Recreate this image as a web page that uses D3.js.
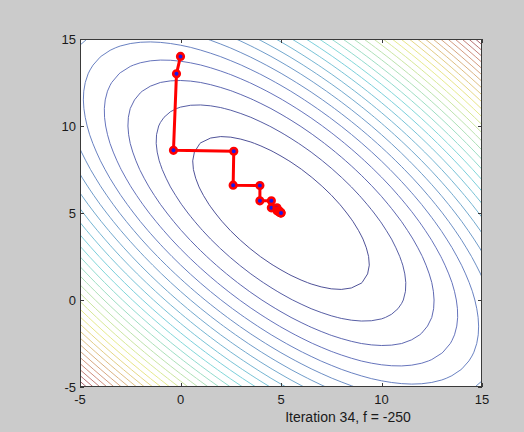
<!DOCTYPE html>
<html>
<head>
<meta charset="utf-8">
<script src="https://cdn.jsdelivr.net/npm/d3@7"></script>
<style>
  html, body { margin: 0; padding: 0; background: #cbcbcb; }
  svg { display: block; }
  text { font-family: "Liberation Sans", Arial, sans-serif; fill: #1a1a1a; }
</style>
</head>
<body>
<svg id="chart" width="524" height="432"></svg>
<script>
'use strict';

// axis ticks
const xTicks = [-5, 0, 5, 10, 15];
const yTicks = [-5, 0, 5, 10, 15];

// objective f(x) = x'Ax - b'x (minimum -250 at (5,5))
const quadA = [[3, 2], [2, 3]];
const quadB = [50, 50];

// contour levels (30 evenly spaced between min and max)
const levels = [
  -217.7, -185.5, -153.2, -121.0, -88.7, -56.5, -24.2, 8.1, 40.3, 72.6,
  104.8, 137.1, 169.4, 201.6, 233.9, 266.1, 298.4, 330.6, 362.9, 395.2,
  427.4, 459.7, 491.9, 524.2, 556.5, 588.7, 621.0, 653.2, 685.5, 717.7
];

// descent path
const pathX = [0, -0.2, -0.35, 2.65, 2.62, 3.95, 3.95, 4.52, 4.52, 4.8, 4.8, 4.9, 4.9, 4.96, 4.96, 4.98, 4.98, 5.0, 5.0];
const pathY = [14, 13, 8.6, 8.55, 6.6, 6.58, 5.7, 5.7, 5.3, 5.3, 5.13, 5.13, 5.06, 5.06, 5.03, 5.03, 5.01, 5.01, 5.0];

const xLabel = 'Iteration 34, f = -250';

(function () {
  const plot = { left: 80, right: 482, top: 39, bottom: 387 };

  const svg = d3.select('#chart');

  const x = d3.scaleLinear().domain([-5, 15]).range([plot.left, plot.right]);
  const y = d3.scaleLinear().domain([-5, 15]).range([plot.bottom, plot.top]);

  function f(px, py) {
    return quadA[0][0] * px * px + (quadA[0][1] + quadA[1][0]) * px * py + quadA[1][1] * py * py
      - quadB[0] * px - quadB[1] * py;
  }

  // sample grid, a bit wider than the axes so the border rings get clipped
  const step = 0.5;
  const g0 = -6;
  const gridPts = d3.range(g0, 16 + 1e-9, step);
  const n = gridPts.length;
  const values = new Array(n * n);
  for (let j = 0; j < n; j++) {
    for (let i = 0; i < n; i++) {
      values[j * n + i] = f(gridPts[i], gridPts[j]);
    }
  }

  const contours = d3.contours().size([n, n]).thresholds(levels)(values);

  const toScreen = d3.geoTransform({
    point: function (cx, cy) {
      this.stream.point(x(g0 + (cx - 0.5) * step), y(g0 + (cy - 0.5) * step));
    }
  });
  const contourPath = d3.geoPath(toScreen);

  // faded jet colormap
  const color = d3.scaleLinear()
    .domain([-250, -125, 125, 375, 625, 750])
    .range(['#33337f', '#5563b4', '#6fd3da', '#e9e97a', '#c88070', '#92445a'])
    .interpolate(d3.interpolateRgb);

  svg.append('defs').append('clipPath').attr('id', 'plot-clip')
    .append('rect')
    .attr('x', plot.left).attr('y', plot.top)
    .attr('width', plot.right - plot.left).attr('height', plot.bottom - plot.top);

  svg.append('rect')
    .attr('x', plot.left).attr('y', plot.top)
    .attr('width', plot.right - plot.left).attr('height', plot.bottom - plot.top)
    .attr('fill', '#ffffff');

  svg.append('g')
    .attr('clip-path', 'url(#plot-clip)')
    .selectAll('path')
    .data(contours)
    .join('path')
    .attr('d', contourPath)
    .attr('fill', 'none')
    .attr('stroke', (d) => color(d.value))
    .attr('stroke-width', 1)
    .attr('stroke-opacity', 0.9);

  // descent path
  const pts = pathX.map((v, i) => [v, pathY[i]]);
  const line = d3.line().x((d) => x(d[0])).y((d) => y(d[1]));

  svg.append('path')
    .datum(pts)
    .attr('d', line)
    .attr('fill', 'none')
    .attr('stroke', '#ff0000')
    .attr('stroke-width', 3)
    .attr('stroke-linejoin', 'round');

  svg.append('g')
    .selectAll('circle')
    .data(pts)
    .join('circle')
    .attr('cx', (d) => x(d[0]))
    .attr('cy', (d) => y(d[1]))
    .attr('r', 3.3)
    .attr('fill', '#1a1ae6')
    .attr('stroke', '#ff0000')
    .attr('stroke-width', 2.6);

  // box with inward ticks on all four sides
  const axisColor = '#3a3a3a';
  const tickLen = 4;
  const axes = svg.append('g').attr('stroke', axisColor).attr('stroke-width', 1);

  axes.append('rect')
    .attr('x', plot.left + 0.5).attr('y', plot.top + 0.5)
    .attr('width', plot.right - plot.left - 1).attr('height', plot.bottom - plot.top - 1)
    .attr('fill', 'none');

  xTicks.forEach((t) => {
    const px = Math.round(x(t)) + 0.5;
    axes.append('line').attr('x1', px).attr('x2', px).attr('y1', plot.bottom).attr('y2', plot.bottom - tickLen);
    axes.append('line').attr('x1', px).attr('x2', px).attr('y1', plot.top).attr('y2', plot.top + tickLen);
  });
  yTicks.forEach((t) => {
    const py = Math.round(y(t)) + 0.5;
    axes.append('line').attr('y1', py).attr('y2', py).attr('x1', plot.left).attr('x2', plot.left + tickLen);
    axes.append('line').attr('y1', py).attr('y2', py).attr('x1', plot.right).attr('x2', plot.right - tickLen);
  });

  svg.append('g')
    .selectAll('text')
    .data(xTicks)
    .join('text')
    .attr('x', (d) => x(d))
    .attr('y', plot.bottom + 17)
    .attr('text-anchor', 'middle')
    .attr('font-size', 13)
    .text((d) => d);

  svg.append('g')
    .selectAll('text')
    .data(yTicks)
    .join('text')
    .attr('x', plot.left - 4)
    .attr('y', (d) => y(d))
    .attr('dy', '0.36em')
    .attr('text-anchor', 'end')
    .attr('font-size', 13)
    .text((d) => d);

  svg.append('text')
    .attr('x', 348)
    .attr('y', 422)
    .attr('text-anchor', 'middle')
    .attr('font-size', 14)
    .text(xLabel);
})();
</script>
</body>
</html>
